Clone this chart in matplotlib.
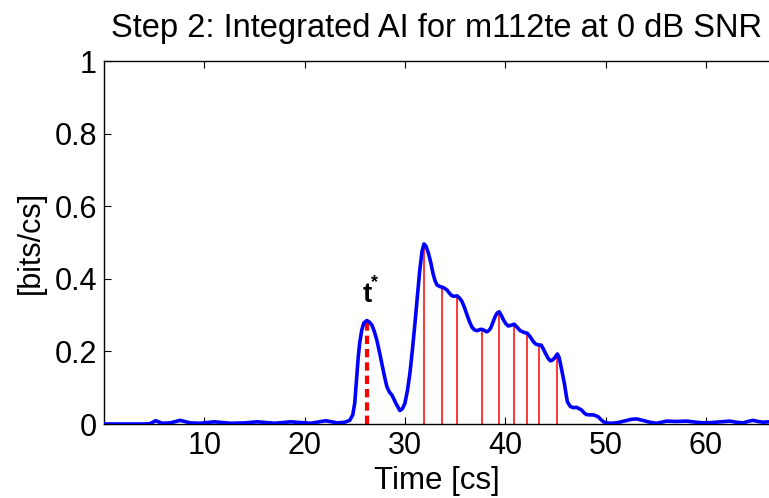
"""
Step 2 plot: integrated AI over time, with t* and the later peak markers.
"""

import matplotlib
matplotlib.use("Agg")
import matplotlib.pyplot as plt
from matplotlib.ticker import FormatStrFormatter

# ── Data ──────────────────────────────────────────────────────────────────────
time_cs = [
    0.0, 1.0, 2.0, 3.0, 4.0, 4.6, 5.15, 5.8, 6.6, 7.6, 8.6, 9.6, 11.0, 12.6,
    14.0, 15.3, 17.0, 18.6, 20.6, 22.1, 23.3, 24.0, 24.5, 24.8, 25.0, 25.2,
    25.35, 25.5, 25.7, 25.9, 26.2, 26.45, 26.7, 26.95, 27.2, 27.45, 27.7,
    27.95, 28.2, 28.45, 28.7, 29.1, 29.5, 29.75, 30.0, 30.25, 30.5, 30.75,
    31.0, 31.25, 31.45, 31.7, 31.9, 32.1, 32.35, 32.6, 32.8, 33.0, 33.2,
    33.45, 33.7, 33.95, 34.2, 34.45, 34.7, 34.95, 35.2, 35.45, 35.7, 35.95,
    36.2, 36.45, 36.7, 36.95, 37.2, 37.45, 37.65, 37.9, 38.15, 38.35, 38.55,
    38.8, 39.0, 39.2, 39.4, 39.6, 39.8, 40.05, 40.3, 40.6, 40.9, 41.2, 41.5,
    41.9, 42.2, 42.5, 42.8, 43.05, 43.3, 43.6, 43.85, 44.1, 44.3, 44.5, 44.7,
    44.9, 45.2, 45.35, 45.5, 45.7, 45.9, 46.05, 46.2, 46.5, 46.8, 47.1, 47.4,
    47.6, 47.85, 48.1, 48.5, 48.8, 49.1, 49.3, 49.55, 49.8, 50.1, 50.5, 51.0,
    51.4, 52.0, 52.6, 53.1, 53.7, 54.4, 55.1, 55.6, 56.1, 57.0, 58.1, 59.0,
    59.8, 60.6, 61.5, 62.4, 63.0, 63.7, 64.2, 64.7, 65.2, 65.7, 66.3,
]
ai_bits = [
    0.0, 0.0, 0.0, 0.0, 0.0, 0.001, 0.009, 0.002, 0.003, 0.010, 0.003, 0.002,
    0.006, 0.002, 0.003, 0.006, 0.002, 0.006, 0.002, 0.009, 0.003, 0.005,
    0.010, 0.025, 0.058, 0.130, 0.185, 0.225, 0.259, 0.278, 0.285, 0.281,
    0.273, 0.255, 0.231, 0.200, 0.167, 0.133, 0.103, 0.088, 0.080, 0.057,
    0.037, 0.042, 0.057, 0.092, 0.140, 0.205, 0.277, 0.355, 0.415, 0.475,
    0.496, 0.490, 0.470, 0.442, 0.415, 0.395, 0.383, 0.379, 0.377, 0.374,
    0.369, 0.360, 0.353, 0.352, 0.353, 0.347, 0.337, 0.320, 0.300, 0.281,
    0.266, 0.259, 0.257, 0.260, 0.261, 0.258, 0.254, 0.257, 0.264, 0.282,
    0.296, 0.306, 0.309, 0.300, 0.288, 0.277, 0.270, 0.272, 0.275, 0.266,
    0.257, 0.252, 0.250, 0.240, 0.227, 0.220, 0.218, 0.217, 0.204, 0.190,
    0.180, 0.174, 0.176, 0.181, 0.193, 0.185, 0.167, 0.140, 0.112, 0.085,
    0.061, 0.048, 0.045, 0.046, 0.042, 0.039, 0.031, 0.026, 0.025, 0.025,
    0.022, 0.019, 0.012, 0.006, 0.003, 0.002, 0.003, 0.005, 0.009, 0.013,
    0.014, 0.010, 0.005, 0.002, 0.005, 0.008, 0.007, 0.008, 0.005, 0.003,
    0.004, 0.006, 0.008, 0.005, 0.003, 0.007, 0.010, 0.007, 0.005, 0.006,
]

# t* (first peak) and the later local peaks
t_star       = 26.2
t_star_value = 0.285
peak_times   = [31.9, 33.7, 35.2, 37.65, 39.4, 40.9, 42.2, 43.4, 45.2]
peak_values  = [0.496, 0.377, 0.353, 0.261, 0.309, 0.275, 0.250, 0.218, 0.193]

x_ticks = [10, 20, 30, 40, 50, 60]
y_ticks = [0, 0.2, 0.4, 0.6, 0.8, 1]

# ── Style ─────────────────────────────────────────────────────────────────────
FONT      = "Liberation Sans"
W, H, DPI = 769, 498, 100
plt.rcParams["font.family"] = FONT

# ── Plot ──────────────────────────────────────────────────────────────────────
fig = plt.figure(figsize=(W / DPI, H / DPI), dpi=DPI)
ax  = fig.add_axes([104 / W, (H - 424) / H, (W - 104) / W, (424 - 61) / H])

ax.vlines(peak_times, 0, peak_values, color="red", linewidth=1.1, zorder=2)
ax.plot([t_star, t_star], [0, t_star_value], color="red", linewidth=3.0,
        linestyle=(0, (2.0, 1.2)), zorder=2)
ax.plot(time_cs, ai_bits, color="blue", linewidth=2.6, zorder=3)

ax.text(t_star, t_star_value + 0.035, "t", fontsize=20, fontweight="bold",
        ha="center", va="bottom")
ax.text(t_star + 0.75, t_star_value + 0.105, "*", fontsize=13,
        fontweight="bold", ha="center", va="center")

ax.set_xlim(0, 66.3)
ax.set_ylim(0, 1)
ax.set_xticks(x_ticks)
ax.set_yticks(y_ticks)
ax.yaxis.set_major_formatter(FormatStrFormatter("%g"))
ax.tick_params(direction="in", length=5, width=0.8, labelsize=22, pad=5,
               top=True, right=False)

ax.spines["right"].set_visible(False)
for side in ("left", "bottom", "top"):
    ax.spines[side].set_linewidth(1.0)

ax.set_xlabel("Time [cs]", fontsize=22.5, labelpad=3.5)
ax.set_ylabel("[bits/cs]", fontsize=22, labelpad=6)
ax.set_title("Step 2: Integrated AI for m112te at 0 dB SNR", fontsize=23.5,
             pad=17)

fig.savefig("out.png", dpi=DPI)
plt.close(fig)
